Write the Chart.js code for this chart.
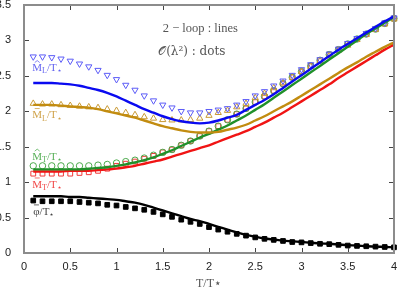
<!DOCTYPE html>
<html>
<head>
<meta charset="utf-8">
<script src="https://cdn.jsdelivr.net/npm/chart.js@4.4.1/dist/chart.umd.min.js"></script>
<style>
  body { margin: 0; background: #fff; }
  canvas { display: block; }
</style>
</head>
<body>
<canvas id="massChart" width="399" height="294"></canvas>
<script>
// T/T* sample points (same for dots and curves)
const temps = [0.1, 0.2, 0.3, 0.4, 0.5, 0.6, 0.7, 0.8, 0.9, 1.0,
  1.1, 1.2, 1.3, 1.4, 1.5, 1.6, 1.7, 1.8, 1.9, 2.0,
  2.1, 2.2, 2.3, 2.4, 2.5, 2.6, 2.7, 2.8, 2.9, 3.0,
  3.1, 3.2, 3.3, 3.4, 3.5, 3.6, 3.7, 3.8, 3.9, 4.0];

// O(lambda^2) : dots
const mlHatDots = [2.77, 2.77, 2.76, 2.74, 2.71, 2.67, 2.63, 2.58, 2.51, 2.45,
  2.37, 2.30, 2.22, 2.15, 2.09, 2.05, 2.00, 1.98, 1.98, 2.00,
  2.02, 2.04, 2.09, 2.14, 2.22, 2.28, 2.36, 2.43, 2.51, 2.59,
  2.66, 2.73, 2.81, 2.88, 2.96, 3.03, 3.10, 3.17, 3.25, 3.32];
const mlBarDots = [2.11, 2.10, 2.10, 2.09, 2.08, 2.07, 2.06, 2.05, 2.03, 2.01,
  1.98, 1.95, 1.92, 1.90, 1.88, 1.875, 1.875, 1.88, 1.90, 1.94,
  1.98, 2.01, 2.06, 2.11, 2.19, 2.25, 2.33, 2.40, 2.48, 2.56,
  2.63, 2.71, 2.78, 2.86, 2.93, 3.01, 3.08, 3.15, 3.23, 3.30];
const mtHatDots = [1.23, 1.23, 1.23, 1.23, 1.23, 1.23, 1.23, 1.24, 1.25, 1.27,
  1.29, 1.31, 1.34, 1.38, 1.42, 1.46, 1.52, 1.58, 1.65, 1.72,
  1.79, 1.88, 1.96, 2.04, 2.13, 2.21, 2.29, 2.39, 2.48, 2.56,
  2.64, 2.72, 2.80, 2.87, 2.95, 3.02, 3.09, 3.16, 3.24, 3.31];
const mtBarDots = [1.12, 1.12, 1.12, 1.12, 1.12, 1.13, 1.14, 1.16, 1.19, 1.23,
  1.26, 1.29, 1.33, 1.37, 1.42, 1.46, 1.52, 1.58, 1.65, 1.72,
  1.79, 1.88, 1.96, 2.04, 2.13, 2.21, 2.29, 2.39, 2.48, 2.56,
  2.64, 2.72, 2.80, 2.87, 2.95, 3.02, 3.09, 3.16, 3.24, 3.31];
const phiDots = [0.74, 0.73, 0.73, 0.73, 0.73, 0.72, 0.71, 0.70, 0.68, 0.67,
  0.65, 0.63, 0.61, 0.58, 0.545, 0.51, 0.47, 0.44, 0.41, 0.365,
  0.33, 0.30, 0.27, 0.245, 0.22, 0.20, 0.185, 0.17, 0.155, 0.15,
  0.14, 0.13, 0.125, 0.115, 0.105, 0.10, 0.095, 0.09, 0.085, 0.08];

// 2-loop : lines
const mlHatLine = [2.40, 2.40, 2.40, 2.39, 2.38, 2.36, 2.33, 2.30, 2.26, 2.21,
  2.15, 2.09, 2.03, 1.98, 1.93, 1.89, 1.86, 1.84, 1.83, 1.84,
  1.87, 1.91, 1.95, 2.02, 2.09, 2.16, 2.24, 2.33, 2.42, 2.51,
  2.60, 2.69, 2.78, 2.87, 2.95, 3.03, 3.11, 3.19, 3.27, 3.34];
const mlBarLine = [2.09, 2.09, 2.09, 2.08, 2.07, 2.06, 2.05, 2.03, 2.00, 1.97,
  1.94, 1.91, 1.87, 1.83, 1.79, 1.76, 1.73, 1.71, 1.70, 1.70,
  1.71, 1.74, 1.77, 1.81, 1.87, 1.93, 2.00, 2.07, 2.14, 2.22,
  2.30, 2.38, 2.46, 2.54, 2.62, 2.69, 2.77, 2.84, 2.91, 2.97];
const mtHatLine = [1.18, 1.18, 1.18, 1.18, 1.18, 1.18, 1.19, 1.20, 1.21, 1.23,
  1.25, 1.28, 1.31, 1.35, 1.40, 1.45, 1.51, 1.57, 1.63, 1.68,
  1.74, 1.80, 1.87, 1.94, 2.02, 2.10, 2.19, 2.28, 2.37, 2.46,
  2.55, 2.64, 2.73, 2.82, 2.91, 3.00, 3.09, 3.17, 3.25, 3.33];
const mtBarLine = [1.15, 1.15, 1.15, 1.15, 1.16, 1.16, 1.16, 1.17, 1.18, 1.19,
  1.21, 1.23, 1.26, 1.29, 1.32, 1.36, 1.40, 1.44, 1.48, 1.52,
  1.57, 1.62, 1.67, 1.72, 1.78, 1.84, 1.91, 1.98, 2.06, 2.14,
  2.22, 2.30, 2.38, 2.47, 2.55, 2.63, 2.71, 2.79, 2.87, 2.94];
const phiLine = [0.80, 0.80, 0.80, 0.80, 0.79, 0.79, 0.78, 0.77, 0.76, 0.75,
  0.73, 0.71, 0.68, 0.64, 0.60, 0.56, 0.52, 0.48, 0.45, 0.41,
  0.37, 0.33, 0.29, 0.255, 0.23, 0.205, 0.19, 0.175, 0.165, 0.155,
  0.145, 0.135, 0.13, 0.12, 0.11, 0.105, 0.095, 0.09, 0.085, 0.08];

const pts = (ys) => temps.map((t, i) => ({ x: t, y: ys[i] }));

function dots(ys, color, style, opts) {
  return Object.assign({
    type: "scatter",
    data: pts(ys),
    pointStyle: style,
    pointRadius: 3.6,
    pointBorderWidth: 1,
    pointBorderColor: color,
    pointBackgroundColor: "rgba(0,0,0,0)",
    showLine: false,
    clip: false,
    order: 2,
  }, opts || {});
}

function curve(ys, color) {
  return {
    type: "line",
    data: pts(ys),
    borderColor: color,
    borderWidth: 2.4,
    pointRadius: 0,
    tension: 0.4,
    cubicInterpolationMode: "monotone",
    fill: false,
    clip: false,
    order: 1,
  };
}

// text inside the plot, placed in data coordinates
// each part: [text, subscript?, accent ("hat" / "bar")]
const notes = [
  { x: 0.09, y: 2.61, color: "#6464f0", parts: [["M", 0, "hat"], ["L", 1], ["/T", 0], ["\u22c6", 1]] },
  { x: 0.09, y: 1.94, color: "#cfa24a", parts: [["M", 0, "bar"], ["L", 1], ["/T", 0], ["\u22c6", 1]] },
  { x: 0.09, y: 1.36, color: "#58b058", parts: [["M", 0, "hat"], ["T", 1], ["/T", 0], ["\u22c6", 1]] },
  { x: 0.09, y: 0.96, color: "#f04848", parts: [["M", 0, "bar"], ["T", 1], ["/T", 0], ["\u22c6", 1]] },
  { x: 0.1, y: 0.58, color: "#444", parts: [["\u03c6", 0, "bar"], ["/T", 0], ["\u22c6", 1]] },
];

const notesPlugin = {
  id: "notes",
  afterDraw(chart) {
    const { ctx, scales: { x, y } } = chart;
    ctx.save();
    ctx.textBaseline = "middle";
    ctx.textAlign = "left";
    ctx.lineWidth = 0.8;
    notes.forEach((n) => {
      let px = x.getPixelForValue(n.x);
      const py = y.getPixelForValue(n.y);
      ctx.fillStyle = n.color;
      ctx.strokeStyle = n.color;
      n.parts.forEach(([txt, sub, accent]) => {
        ctx.font = sub ? "8px 'Liberation Serif'" : "11px 'Liberation Serif'";
        ctx.fillText(txt, px, py + (sub ? 3 : 0));
        const w = ctx.measureText(txt).width;
        if (accent) {
          const cx = px + w / 2;
          const top = py - 7;
          ctx.beginPath();
          if (accent === "hat") {
            ctx.moveTo(cx - 2.5, top + 1.5); ctx.lineTo(cx, top - 0.5); ctx.lineTo(cx + 2.5, top + 1.5);
          } else {
            ctx.moveTo(cx - 2.5, top); ctx.lineTo(cx + 2.5, top);
          }
          ctx.stroke();
        }
        px += w;
      });
    });
    ctx.fillStyle = "#555";
    ctx.font = "12.5px 'Liberation Serif'";
    ctx.fillText("2 \u2212 loop : lines", x.getPixelForValue(1.5), y.getPixelForValue(3.16));
    ctx.font = "12px 'DejaVu Serif'";
    ctx.fillText("\ud835\udcaa(\u03bb\u00b2) : dots", x.getPixelForValue(1.45), y.getPixelForValue(2.84));
    ctx.restore();
  },
};

// box round the plot with inward ticks on all four sides
const framePlugin = {
  id: "frame",
  afterDraw(chart) {
    const { ctx, chartArea: a, scales: { x, y } } = chart;
    ctx.save();
    ctx.strokeStyle = "#444";
    ctx.lineWidth = 1;
    ctx.beginPath();
    x.ticks.forEach((t) => {
      const px = Math.round(x.getPixelForValue(t.value)) + 0.5;
      ctx.moveTo(px, a.bottom); ctx.lineTo(px, a.bottom - 5);
      ctx.moveTo(px, a.top); ctx.lineTo(px, a.top + 5);
    });
    y.ticks.forEach((t) => {
      const py = Math.round(y.getPixelForValue(t.value)) + 0.5;
      ctx.moveTo(a.left, py); ctx.lineTo(a.left + 5, py);
      ctx.moveTo(a.right, py); ctx.lineTo(a.right - 5, py);
    });
    ctx.stroke();
    ctx.strokeStyle = "#8c8c8c";
    ctx.lineWidth = 2;
    ctx.strokeRect(a.left, a.top, a.right - a.left, a.bottom - a.top);
    ctx.restore();
  },
};

const tickFont = { family: "'Liberation Sans'", size: 11 };
const plain = (v) => String(v);

const ctx = document.getElementById("massChart").getContext("2d");
new Chart(ctx, {
  type: "scatter",
  data: {
    datasets: [
      dots(mlHatDots, "#5c5cf7", "triangle", { rotation: 180 }),
      dots(mlBarDots, "#c99a35", "triangle"),
      dots(mtHatDots, "#4caa4c", "circle", { pointRadius: 3.2 }),
      dots(mtBarDots, "#f03a3a", "rect", { pointRadius: 3.4 }),
      dots(phiDots, "#000", "rect", { pointRadius: 3.3, pointBackgroundColor: "#000" }),
      curve(mlHatLine, "#0a0af0"),
      curve(mlBarLine, "#c28c10"),
      curve(mtHatLine, "#20902a"),
      curve(mtBarLine, "#f01414"),
      curve(phiLine, "#000"),
    ],
  },
  options: {
    responsive: false,
    animation: false,
    devicePixelRatio: 1,
    layout: { padding: { top: 5, right: 4, left: 0, bottom: 0 } },
    plugins: { legend: { display: false }, tooltip: { enabled: false } },
    scales: {
      x: {
        type: "linear",
        min: 0,
        max: 4,
        grid: { display: false, drawTicks: false, tickLength: 0 },
        border: { display: false },
        ticks: { stepSize: 0.5, padding: 7, color: "#222", font: tickFont, callback: plain },
        title: { display: true, text: "T/T\u22c6", color: "#555", padding: { top: 0, bottom: 3 }, font: { family: "'Liberation Serif'", size: 12 } },
        afterFit: (s) => { s.height = 41; s.paddingLeft = 0; s.paddingRight = 0; },
      },
      y: {
        min: 0,
        max: 3.5,
        grid: { display: false, drawTicks: false, tickLength: 0 },
        border: { display: false },
        ticks: { stepSize: 0.5, padding: 13, color: "#222", font: tickFont, callback: plain },
        afterFit: (s) => { s.width = 24; s.paddingTop = 0; s.paddingBottom = 0; },
      },
    },
  },
  plugins: [framePlugin, notesPlugin],
});
</script>
</body>
</html>
